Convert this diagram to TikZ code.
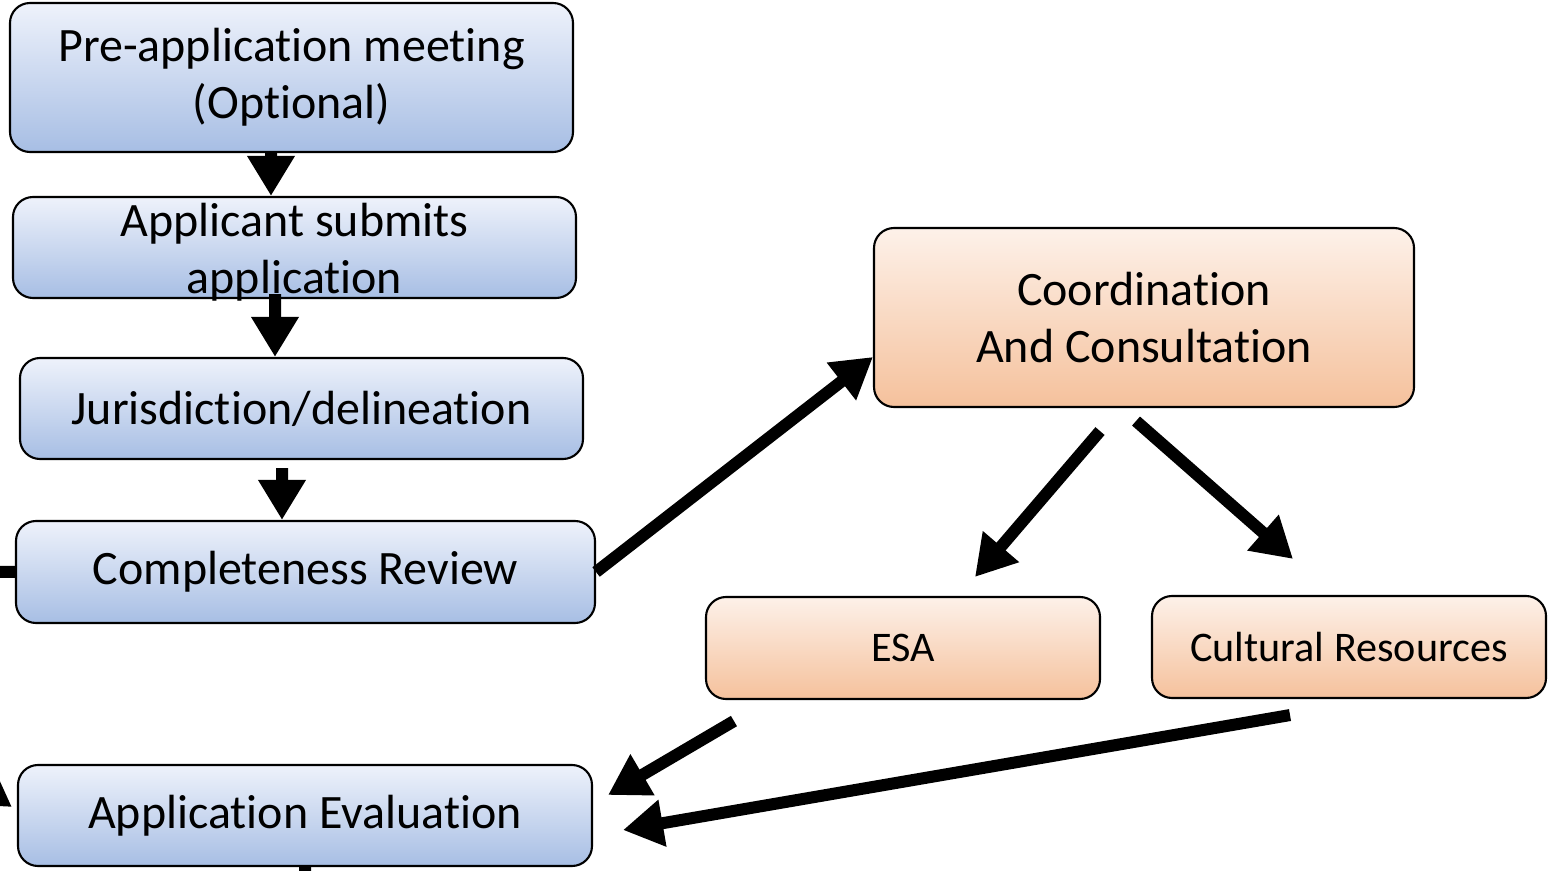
\documentclass[tikz,border=0pt]{standalone}
\usepackage{fontspec}
\setmainfont{Carlito}[Ligatures=NoCommon]
\usetikzlibrary{arrows.meta,positioning,calc}
\definecolor{blueTop}{RGB}{238,242,251}
\definecolor{blueBot}{RGB}{167,190,228}
\definecolor{orTop}{RGB}{253,241,233}
\definecolor{orBot}{RGB}{245,193,156}
\newcommand{\tighttext}[1]{\raisebox{-0.35em}[0pt][0pt]{\begin{tabular}{@{}c@{}}#1\end{tabular}}}
\tikzset{
  stepbox/.style={draw, line width=1.2pt, rounded corners=0.4cm, inner sep=0pt,
    align=center, font=\fontsize{27.3}{32.6}\selectfont},
  bluebox/.style={stepbox, top color=blueTop, bottom color=blueBot},
  orangebox/.style={stepbox, top color=orTop, bottom color=orBot},
  smalltext/.style={font=\fontsize{24}{29}\selectfont},
  flow/.style={line width=0.24cm, -{Triangle[length=0.8cm,width=0.9cm]}},
  stub/.style={line width=0.24cm}
}
\begin{document}
\begin{tikzpicture}
  \clip (0,0) rectangle (31.24,-17.42);
  % Left column
  \node[bluebox, minimum width=11.26cm, minimum height=2.98cm] (pre) at (5.83,-1.55)
    {Pre-application meeting\\(Optional)};
  \node[bluebox, minimum width=11.26cm, minimum height=2.02cm] (submit) at (5.89,-4.95)
    {\tighttext{Applicant submits\\application}};
  \node[bluebox, minimum width=11.26cm, minimum height=2.02cm] (juris) at (6.03,-8.17)
    {Jurisdiction/delineation};
  \node[bluebox, minimum width=11.58cm, minimum height=2.04cm] (complete) at (6.11,-11.44)
    {Completeness Review};
  \node[bluebox, minimum width=11.48cm, minimum height=2.02cm] (evalu) at (6.10,-16.31)
    {Application Evaluation};
  % Consultation branch
  \node[orangebox, minimum width=10.8cm, minimum height=3.58cm] (coord) at (22.88,-6.35)
    {Coordination\\And Consultation};
  \node[orangebox, smalltext, minimum width=7.88cm, minimum height=2.04cm] (esa) at (18.06,-12.96)
    {ESA};
  \node[orangebox, smalltext, minimum width=7.88cm, minimum height=2.04cm] (cultural) at (26.98,-12.94)
    {Cultural Resources};
  % Flow arrows
  \draw[flow] ([xshift=-0.41cm]pre.south) -- ([xshift=-0.47cm]submit.north);
  \draw[flow] ([shift={(-0.39cm,0.1cm)}]submit.south) -- ([xshift=-0.53cm]juris.north);
  \draw[flow] ([shift={(-0.39cm,-0.16cm)}]juris.south) -- ([xshift=-0.47cm]complete.north);
  \draw[flow] (complete.east) -- ([yshift=-0.79cm]coord.west);
  \draw[flow] ([shift={(-0.88cm,-0.46cm)}]coord.south) -- ([shift={(1.44cm,0.38cm)}]esa.north);
  \draw[flow] ([shift={(-0.16cm,-0.26cm)}]coord.south) -- ([shift={(-1.12cm,0.72cm)}]cultural.north);
  \draw[flow] ([shift={(0.58cm,-0.42cm)}]esa.south west) -- ([shift={(0.3cm,0.41cm)}]evalu.east);
  \draw[flow] ([shift={(-1.18cm,-0.32cm)}]cultural.south) -- ([shift={(0.6cm,-0.29cm)}]evalu.east);
  % Connectors running off the page
  \coordinate (offleft) at (-2,-11.43);
  \coordinate (offupper) at (-2.23,-14.46);
  \coordinate (offbottom) at (6.11,-19);
  \draw[stub] (offleft) -- (complete.west);
  \draw[flow] (offupper) -- ([shift={(-0.1cm,0.17cm)}]evalu.west);
  \draw[stub] (evalu.south) -- (offbottom);
\end{tikzpicture}
\end{document}
